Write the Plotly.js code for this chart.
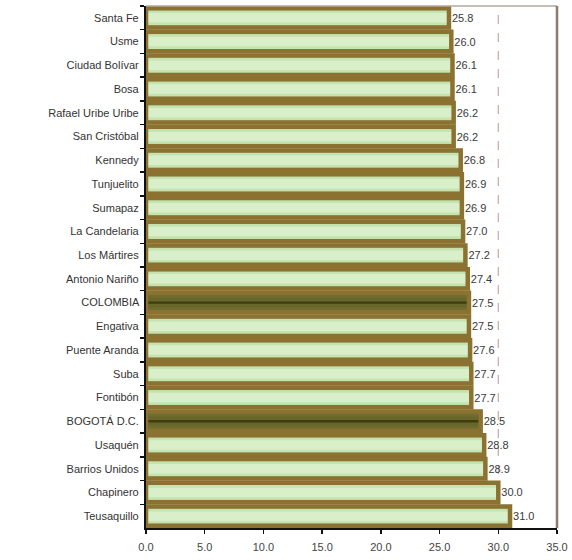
<!DOCTYPE html>
<html>
<head>
<meta charset="utf-8">
<script src="https://cdn.plot.ly/plotly-3.0.1.min.js"></script>
<style>
  html, body { margin: 0; padding: 0; background: #ffffff; }
  #chart { width: 572px; height: 560px; }
</style>
</head>
<body>
<div id="chart"></div>
<script>
// Localidades de Bogotá, de arriba hacia abajo
const localidades = [
  "Santa Fe", "Usme", "Ciudad Bolívar", "Bosa", "Rafael Uribe Uribe",
  "San Cristóbal", "Kennedy", "Tunjuelito", "Sumapaz", "La Candelaria",
  "Los Mártires", "Antonio Nariño", "COLOMBIA", "Engativa", "Puente Aranda",
  "Suba", "Fontibón", "BOGOTÁ D.C.", "Usaquén", "Barrios Unidos",
  "Chapinero", "Teusaquillo"
];
const valores = [
  25.8, 26.0, 26.1, 26.1, 26.2,
  26.2, 26.8, 26.9, 26.9, 27.0,
  27.2, 27.4, 27.5, 27.5, 27.6,
  27.7, 27.7, 28.5, 28.8, 28.9,
  30.0, 31.0
];
const totales = ["COLOMBIA", "BOGOTÁ D.C."];
const xTicks = [0, 5, 10, 15, 20, 25, 30, 35];
const referencia = 30;

const esTotal = localidades.map(n => totales.includes(n));
const pick = (a, b) => esTotal.map(t => t ? b : a);

const font = "Liberation Sans, Arial, sans-serif";
const ANCHO = 0.82;

// Stacked layers give each bar a banded (gradient-like) fill
function banda(width, colors) {
  return {
    type: "bar", orientation: "h",
    x: valores, y: localidades,
    width: localidades.map(() => width),
    marker: { color: colors, line: { width: 0 } },
    hoverinfo: "skip", showlegend: false
  };
}

const traces = [
  banda(ANCHO, pick("#aacd92", "#767434")),
  banda(0.62, pick("#c4e3b0", "#6e6c2e")),
  banda(0.4, pick("#d9efca", "#686628")),
  banda(0.1, pick("#d9efca", "#3e3d12")),
  {
    type: "bar", orientation: "h",
    x: valores, y: localidades,
    width: localidades.map(() => ANCHO),
    marker: { color: "rgba(0,0,0,0)", line: { color: "#8b7230", width: 4.5 } },
    text: valores.map(v => v.toFixed(1)),
    textposition: "outside",
    textfont: { family: font, size: 11, color: "#3a3a3a" },
    cliponaxis: false,
    hoverinfo: "skip", showlegend: false
  }
];

const layout = {
  width: 572, height: 560,
  margin: { l: 146, r: 15, t: 6, b: 32 },
  paper_bgcolor: "#ffffff",
  plot_bgcolor: "#ffffff",
  barmode: "overlay",
  font: { family: font, size: 11, color: "#333333" },
  xaxis: {
    range: [0, 35],
    tickvals: xTicks,
    ticktext: xTicks.map(v => v.toFixed(1)),
    ticks: "outside", ticklen: 4, tickwidth: 1.5, tickcolor: "#111111",
    ticklabelstandoff: 4,
    showline: true, linecolor: "#111111", linewidth: 1.5,
    showgrid: false, zeroline: false,
    tickfont: { family: font, size: 11, color: "#444444" }
  },
  yaxis: {
    type: "category",
    autorange: "reversed",
    ticks: "outside", ticklen: 4, tickwidth: 1.5, tickcolor: "#111111",
    tickson: "boundaries",
    showline: true, linecolor: "#111111", linewidth: 2,
    showgrid: false, zeroline: false,
    ticksuffix: " ",
    tickfont: { family: font, size: 11, color: "#333333" }
  },
  shapes: [
    { type: "line", layer: "below", xref: "x", yref: "paper",
      x0: referencia, x1: referencia, y0: 0, y1: 1,
      line: { color: "#c9a8a2", width: 1.2, dash: "dash" } },
    { type: "line", xref: "paper", yref: "paper",
      x0: 0, x1: 1, y0: 1, y1: 1,
      line: { color: "#b3a79d", width: 1.5 } },
    { type: "line", xref: "paper", yref: "paper",
      x0: 1, x1: 1, y0: 0, y1: 1,
      line: { color: "#8c7b72", width: 2.5 } }
  ]
};

Plotly.newPlot("chart", traces, layout, { displayModeBar: false, staticPlot: true });
</script>
</body>
</html>
